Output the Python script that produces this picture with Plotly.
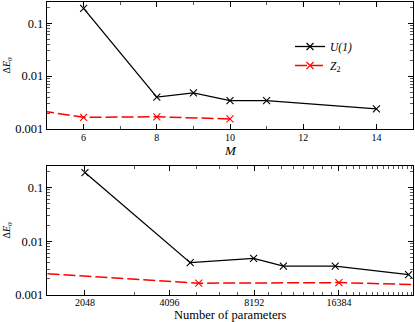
import plotly.graph_objects as go

# ---- data ----
M_u1 = [6, 8, 9, 10, 11, 14]
dE_u1 = [0.19, 0.0040, 0.0048, 0.00345, 0.00345, 0.0024]
params_u1 = [2048, 4850, 8150, 10400, 15900, 29000]

M_z2 = [4, 6, 8, 10]
dE_z2 = [0.0027, 0.00166, 0.0017, 0.00155]
params_z2 = [1160, 5200, 16384, 32000]

ytick_vals = [0.001, 0.01, 0.1]
ytick_text = ["0.001", "0.01", "0.1"]
xtick_M = [6, 8, 10, 12, 14]
xtick_params = [2048, 4096, 8192, 16384]
xtick_params_text = ["2048", "4096", "8192", "16384"]

FONT = "Liberation Serif"
BLACK = "#000000"
RED = "#ff0000"

L, R, T, B = 47, 2, 2, 27
W, H = 415, 322
PW, PH = W - L - R, H - T - B


def px_x(x):
    return (x - L) / PW


def px_y(y):
    return (H - B - y) / PH


fig = go.Figure()

u1_line = dict(color=BLACK, width=1.3)
z2_line = dict(color=RED, width=1.5, dash="12px,4px")
u1_marker = dict(symbol="x-thin", size=7, line=dict(color=BLACK, width=1.1))
z2_marker = dict(symbol="x-thin", size=7, line=dict(color=RED, width=1.1))

fig.add_trace(go.Scatter(x=M_u1, y=dE_u1, mode="lines+markers", line=u1_line,
                         marker=u1_marker, name="<i>U(1)</i>", xaxis="x", yaxis="y"))
fig.add_trace(go.Scatter(x=M_z2, y=dE_z2, mode="lines+markers", line=z2_line,
                         marker=z2_marker, name="<i>Z</i><sub>2</sub>", xaxis="x", yaxis="y"))
fig.add_trace(go.Scatter(x=params_u1, y=dE_u1, mode="lines+markers", line=u1_line,
                         marker=u1_marker, showlegend=False, xaxis="x2", yaxis="y2"))
fig.add_trace(go.Scatter(x=params_z2, y=dE_z2, mode="lines+markers", line=z2_line,
                         marker=z2_marker, showlegend=False, xaxis="x2", yaxis="y2"))

axis_common = dict(showline=True, linecolor=BLACK, linewidth=1.3, mirror="ticks",
                   ticks="inside", ticklen=5, tickwidth=1, tickcolor=BLACK,
                   showgrid=False, zeroline=False, automargin=False)

yaxis_common = dict(axis_common, type="log", range=[-3, -0.6],
                    tickmode="array", tickvals=ytick_vals, ticktext=ytick_text,
                    tickfont=dict(family=FONT, size=12.5, color=BLACK),
                    minor=dict(ticks="inside", ticklen=3, tickwidth=1, tickcolor="#555555", dtick="D1"))

fig.update_layout(
    width=W, height=H,
    margin=dict(l=L, r=R, t=T, b=B, autoexpand=False),
    paper_bgcolor="white", plot_bgcolor="white",
    font=dict(family=FONT, color=BLACK),
    showlegend=True,
    legend=dict(x=px_x(290), y=px_y(32), xanchor="left", yanchor="top",
                bgcolor="rgba(0,0,0,0)", font=dict(family=FONT, size=11.5),
                tracegroupgap=0, itemwidth=30),
    xaxis=dict(axis_common, domain=[0, 1], anchor="y", range=[5, 15],
               tickmode="array", tickvals=xtick_M, ticklabelstandoff=-1,
               tickfont=dict(family=FONT, size=10, color=BLACK),
               minor=dict(ticks="inside", ticklen=3, tickwidth=1, tickcolor="#555555", dtick=1)),
    yaxis=dict(yaxis_common, domain=[px_y(129), 1.0], anchor="x"),
    xaxis2=dict(axis_common, domain=[0, 1], anchor="y2", type="log",
                range=[3.1764, 4.478], ticklabelstandoff=-2,
                tickmode="array", tickvals=xtick_params, ticktext=xtick_params_text,
                tickfont=dict(family=FONT, size=10, color=BLACK),
                minor=dict(ticks="inside", ticklen=3, tickwidth=1, tickcolor="#555555", dtick="L1024")),
    yaxis2=dict(yaxis_common, domain=[0, px_y(166)], anchor="x2"),
)

for yc in [(2 + 129) / 2, (166 + 295) / 2]:
    fig.add_annotation(text="Δ<i>E</i><sub><i>0</i></sub>", xref="paper", yref="paper",
                       x=px_x(7), y=px_y(yc), textangle=-90,
                       showarrow=False, xanchor="center", yanchor="middle",
                       font=dict(family=FONT, size=10, color=BLACK))

fig.add_annotation(text="<i>M</i>", xref="paper", yref="paper",
                   x=px_x(230), y=px_y(150), showarrow=False, borderpad=0,
                   xanchor="center", yanchor="middle",
                   font=dict(family=FONT, size=13, color=BLACK))
fig.add_annotation(text="Number of parameters", xref="paper", yref="paper",
                   x=px_x(230), y=px_y(314.5), showarrow=False, borderpad=0,
                   xanchor="center", yanchor="middle",
                   font=dict(family=FONT, size=12.5, color=BLACK))

fig.write_html("out.html", config={"displayModeBar": False},
               post_script="document.body.style.margin='0';document.body.style.overflow='hidden';")
